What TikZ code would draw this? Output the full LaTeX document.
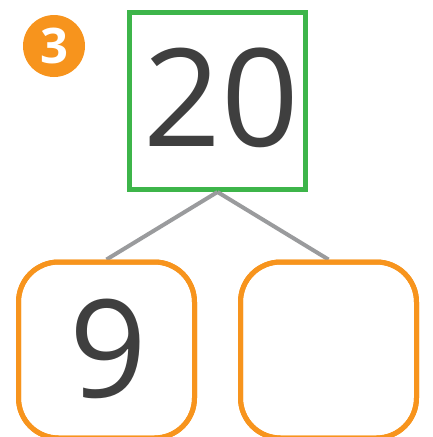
\documentclass[tikz,border=0pt]{standalone}
\usepackage{fontspec}
\setmainfont{Open Sans}
\definecolor{boxgreen}{HTML}{3DB54A}
\definecolor{boxorange}{HTML}{F7941D}
\definecolor{linegray}{HTML}{9A9B9D}
\definecolor{digitgray}{HTML}{3F3F3F}
\begin{document}
\begin{tikzpicture}[x=1pt,y=-1pt,
  digits/.style={font=\fontsize{136}{136}\selectfont,text=digitgray},
  wholebox/.style={draw=boxgreen,line width=5pt,minimum width=176pt,minimum height=177pt,inner sep=0pt},
  partbox/.style={draw=boxorange,line width=5pt,rounded corners=40pt,minimum width=176pt,minimum height=176pt,inner sep=0pt},
  link/.style={draw=linegray,line width=4pt},
  badge/.style={circle,fill=boxorange,minimum size=62pt,inner sep=0pt,text=white,
    font=\fontsize{49}{49}\selectfont\bfseries}]
\useasboundingbox (0,0) rectangle (433,437);
\node[badge] (num) at (54,46) {3};
\node[wholebox] (whole) at (217.5,101) {};
\node[partbox] (left) at (106.5,350) {};
\node[partbox] (right) at (328.5,350) {};
\draw[link] (whole.south) -- (left.north);
\draw[link] (whole.south) -- (right.north);
\node[partbox] at (left) {};
\node[partbox] at (right) {};
\node[digits] (twenty) at (221,98) {20};
\node[digits] (nine) at (108,349) {9};
\end{tikzpicture}
\end{document}
